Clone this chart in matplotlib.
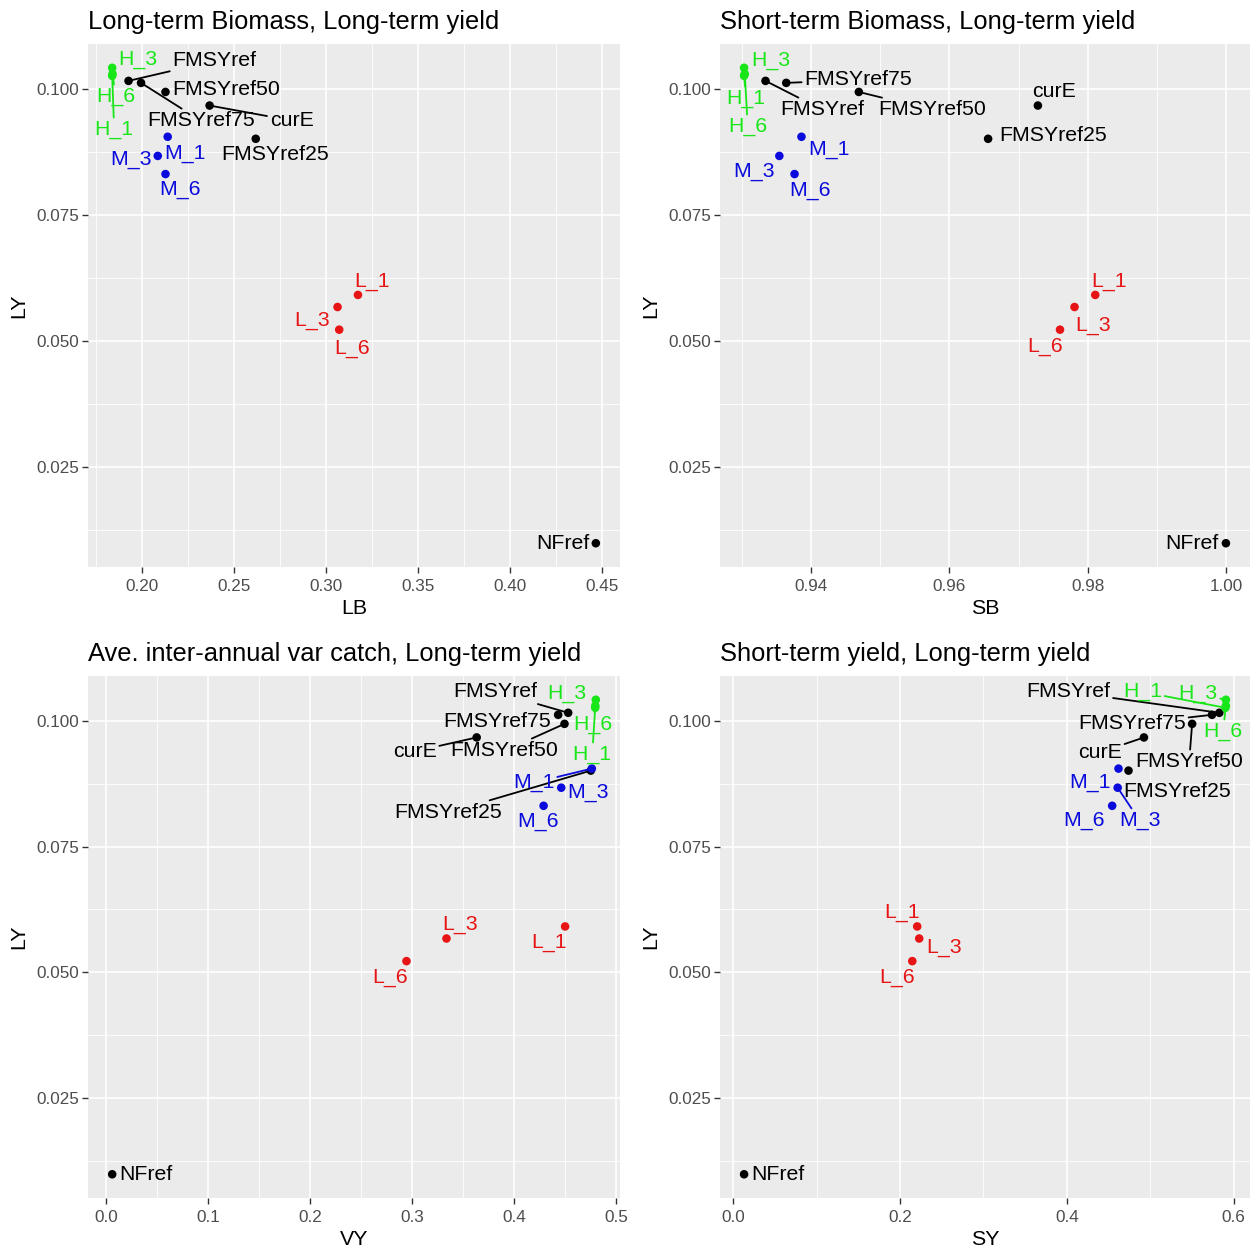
import matplotlib
matplotlib.use('Agg')
import matplotlib.pyplot as plt
from matplotlib.ticker import MultipleLocator, FormatStrFormatter

plt.rcParams['font.family'] = ['Liberation Sans', 'DejaVu Sans']

# ---------------- data ----------------
names = ['curE', 'FMSYref', 'FMSYref25', 'FMSYref50', 'FMSYref75', 'NFref',
         'H_1', 'H_3', 'H_6', 'M_1', 'M_3', 'M_6', 'L_1', 'L_3', 'L_6']
group = ['ref', 'ref', 'ref', 'ref', 'ref', 'ref',
         'H', 'H', 'H', 'M', 'M', 'M', 'L', 'L', 'L']
LY = [0.0967, 0.1016, 0.0901, 0.0994, 0.1012, 0.0098,
      0.1026, 0.1042, 0.1030, 0.0905, 0.0867, 0.0831, 0.0591, 0.0567, 0.0522]
LB = [0.2366, 0.1925, 0.2617, 0.2126, 0.1993, 0.4467,
      0.1836, 0.1836, 0.1838, 0.2138, 0.2084, 0.2126, 0.3173, 0.3062, 0.3071]
SB = [0.9728, 0.9334, 0.9656, 0.9469, 0.9364, 1.0000,
      0.9303, 0.9303, 0.9304, 0.9386, 0.9354, 0.9376, 0.9811, 0.9781, 0.9760]
VY = [0.3633, 0.4530, 0.4752, 0.4494, 0.4432, 0.0060,
      0.4795, 0.4801, 0.4796, 0.4762, 0.4462, 0.4289, 0.4500, 0.3337, 0.2945]
SY = [0.4925, 0.5829, 0.4740, 0.5503, 0.5741, 0.0130,
      0.5902, 0.5908, 0.5908, 0.4620, 0.4610, 0.4544, 0.2206, 0.2230, 0.2147]

titles = ['Long-term Biomass, Long-term yield',
          'Short-term Biomass, Long-term yield',
          'Ave. inter-annual var catch, Long-term yield',
          'Short-term yield, Long-term yield']
xlabels = ['LB', 'SB', 'VY', 'SY']
xvals = [LB, SB, VY, SY]
xmajor = [0.05, 0.02, 0.1, 0.2]
xfmt = ['%.2f', '%.2f', '%.1f', '%.1f']

# ---------------- styling ----------------
colors = {'ref': '#000000', 'H': '#19E619', 'M': '#0A0ADC', 'L': '#E61414'}

# label offsets in pixels (dx, dy, draw segment) per panel
offsets = [
    {'H_3': (26, 8, False), 'H_6': (3, -23, True), 'H_1': (2, -54, True),
     'FMSYref': (86, 20, True), 'FMSYref75': (60, -38, True),
     'FMSYref50': (61, 2, False), 'curE': (82, -15, True),
     'FMSYref25': (19, -16, False), 'M_1': (17, -17, False),
     'M_3': (-27, -4, False), 'M_6': (15, -15, False),
     'L_1': (14, 13, False), 'L_3': (-25, -13, False), 'L_6': (13, -19, False),
     'NFref': (-33, 0, False)},
    {'H_3': (27, 7, False), 'H_1': (2, -23, True), 'H_6': (3, -53, True),
     'FMSYref': (57, -29, True), 'FMSYref75': (72, 3, True),
     'FMSYref50': (73, -18, True), 'curE': (16, 14, False),
     'FMSYref25': (65, 3, False), 'M_1': (27, -13, False),
     'M_3': (-25, -16, False), 'M_6': (15, -16, False),
     'L_1': (14, 13, False), 'L_3': (19, -18, False), 'L_6': (-15, -17, False),
     'NFref': (-34, 0, False)},
    {'H_3': (-29, 6, False), 'H_6': (-2, -19, True), 'H_1': (-3, -47, True),
     'FMSYref': (-73, 21, True), 'FMSYref75': (-61, -7, False),
     'FMSYref50': (-60, -27, True), 'curE': (-62, -14, True),
     'FMSYref25': (-143, -42, True), 'M_1': (-58, -14, True),
     'M_3': (27, -5, False), 'M_6': (-6, -16, False),
     'L_1': (-16, -16, False), 'L_3': (14, 14, False), 'L_6': (-16, -16, False),
     'NFref': (34, 0, False)},
    {'H_3': (-28, 6, True), 'H_1': (-83, 16, True), 'H_6': (-3, -26, True),
     'FMSYref': (-151, 21, True), 'FMSYref75': (-80, -9, True),
     'FMSYref50': (-3, -38, True), 'curE': (-44, -15, True),
     'FMSYref25': (49, -21, False), 'M_1': (-29, -14, False),
     'M_3': (22, -33, True), 'M_6': (-28, -15, False),
     'L_1': (-15, 14, False), 'L_3': (25, -9, False), 'L_6': (-15, -16, False),
     'NFref': (34, 0, False)},
]

W, H = 1256, 1253
fig = plt.figure(figsize=(W / 100, H / 100), dpi=100)
fig.patch.set_facecolor('white')

boxes = [(88, 44, 620, 567), (720, 44, 1250, 567),
         (88, 676, 620, 1198), (720, 676, 1250, 1198)]

for i in range(4):
    x0, y0, x1, y1 = boxes[i]
    ax = fig.add_axes([x0 / W, 1 - y1 / H, (x1 - x0) / W, (y1 - y0) / H])
    ax.set_facecolor('#EBEBEB')
    for s in ax.spines.values():
        s.set_visible(False)
    xs = xvals[i]
    cols = [colors[g] for g in group]
    ax.scatter(xs, LY, s=38, c=cols, linewidths=0, zorder=3)
    ax.margins(0.05)
    ax.xaxis.set_major_locator(MultipleLocator(xmajor[i]))
    ax.xaxis.set_minor_locator(MultipleLocator(xmajor[i] / 2))
    ax.yaxis.set_major_locator(MultipleLocator(0.025))
    ax.yaxis.set_minor_locator(MultipleLocator(0.0125))
    ax.xaxis.set_major_formatter(FormatStrFormatter(xfmt[i]))
    ax.yaxis.set_major_formatter(FormatStrFormatter('%.3f'))
    ax.grid(which='major', color='white', linewidth=1.2)
    ax.grid(which='minor', color='white', linewidth=0.6)
    ax.set_axisbelow(True)
    ax.tick_params(which='major', length=4, width=1.0, color='#333333',
                   labelcolor='#4D4D4D', labelsize=12.3)
    ax.tick_params(axis='x', which='major', pad=4.5)
    ax.tick_params(axis='y', which='major', pad=2.5)
    ax.tick_params(which='minor', length=0)
    ax.set_xlabel(xlabels[i], fontsize=15.4, labelpad=4)
    ax.set_ylabel('LY', fontsize=15.4, labelpad=6)
    ax.set_title(titles[i], loc='left', fontsize=18.4, pad=11)

    for n, g, xv, yv in zip(names, group, xs, LY):
        dx, dy, seg = offsets[i][n]
        c = colors[g]
        kw = {}
        if seg:
            kw['arrowprops'] = dict(arrowstyle='-', color=c, lw=1.3,
                                    shrinkA=0, shrinkB=3)
        ax.annotate(n, (xv, yv), xytext=(dx, dy), textcoords='offset pixels',
                    ha='center', va='center', fontsize=15.3, color=c,
                    zorder=4, **kw)

fig.savefig('out.png', dpi=100)
